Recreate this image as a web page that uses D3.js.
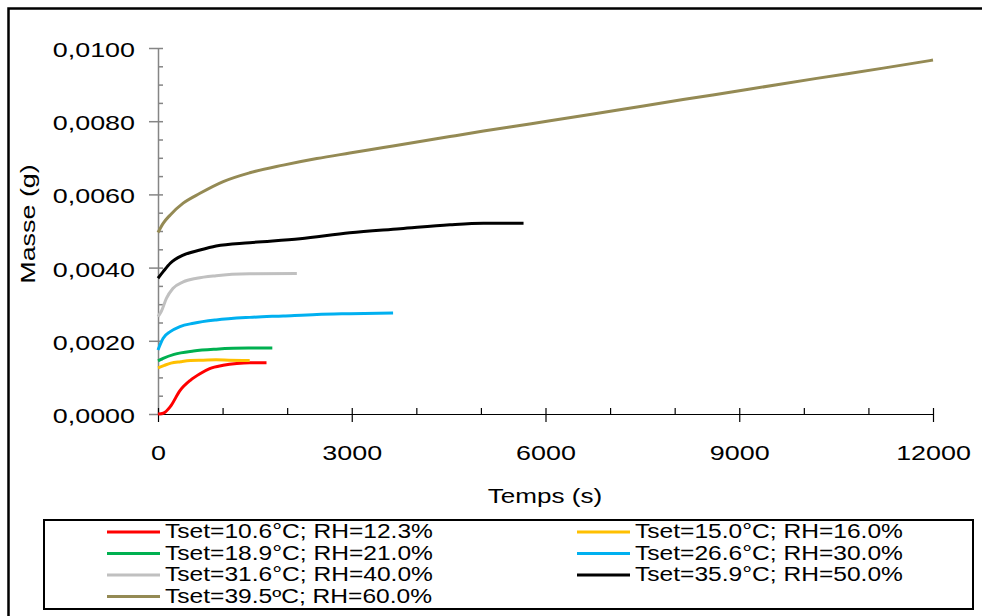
<!DOCTYPE html>
<html><head><meta charset="utf-8">
<script src="https://cdn.jsdelivr.net/npm/d3@7/dist/d3.min.js"></script>
<style>
body{margin:0;background:#fff}
text{font-family:"Liberation Sans",Arial,sans-serif;fill:#000}
</style>
</head><body>
<svg id="c" width="982" height="616"></svg>
<script>
// ---- data ----
const seriesNames = [
  "Tset=10.6°C; RH=12.3%",
  "Tset=15.0°C; RH=16.0%",
  "Tset=18.9°C; RH=21.0%",
  "Tset=26.6°C; RH=30.0%",
  "Tset=31.6°C; RH=40.0%",
  "Tset=35.9°C; RH=50.0%",
  "Tset=39.5ºC; RH=60.0%"
];
const seriesColors = ["#ff0000","#ffc000","#00b050","#00b0f0","#c0c0c0","#000000","#948a54"];

const t1 = [0, 80, 190, 340, 500, 650, 800, 1010, 1220, 1420, 1680];
const v1 = [0, 0.00002, 0.0002, 0.00064, 0.00092, 0.0011, 0.00124, 0.00133, 0.00138, 0.0014, 0.0014];
const t2 = [0, 100, 200, 350, 500, 700, 900, 1100, 1420];
const v2 = [0.00126, 0.00133, 0.00139, 0.00143, 0.00146, 0.00147, 0.00148, 0.00147, 0.00146];
const t3 = [0, 80, 250, 550, 900, 1400, 1770];
const v3 = [0.00145, 0.00152, 0.00163, 0.00172, 0.00177, 0.0018, 0.0018];
const t4 = [0, 80, 190, 340, 550, 900, 1420, 1940, 2460, 2970, 3640];
const v4 = [0.00175, 0.00207, 0.00225, 0.00239, 0.00248, 0.00257, 0.00264, 0.00268, 0.00272, 0.00274, 0.00276];
const t5 = [0, 50, 130, 230, 390, 600, 900, 1420, 2150];
const v5 = [0.00266, 0.0028, 0.00316, 0.00343, 0.00361, 0.00371, 0.00378, 0.00383, 0.00384];
const t6 = [0, 80, 190, 390, 650, 900, 1420, 2200, 2970, 3750, 4520, 5040, 5660];
const v6 = [0.00371, 0.00389, 0.00412, 0.00434, 0.00448, 0.00459, 0.00468, 0.00479, 0.00495, 0.00506, 0.00517, 0.00521, 0.00521];
const t7 = [0, 80, 190, 390, 650, 1010, 1420, 1940, 2460, 2970, 3490, 4010, 4520, 5040, 5550, 6070, 7100, 8130, 9170, 10200, 11230, 12000];
const v7 = [0.00496, 0.00521, 0.00544, 0.00576, 0.00603, 0.00635, 0.00659, 0.0068, 0.00698, 0.00713, 0.00728, 0.00743, 0.00758, 0.00773, 0.00787, 0.00801, 0.0083, 0.00859, 0.00888, 0.00917, 0.00945, 0.00967];

const seriesTimes = [t1, t2, t3, t4, t5, t6, t7];
const seriesValues = [v1, v2, v3, v4, v5, v6, v7];

const xTicks = [0, 3000, 6000, 9000, 12000];
const xMinorTicks = [0,1000,2000,3000,4000,5000,6000,7000,8000,9000,10000,11000,12000];
const yTicks = [0, 0.002, 0.004, 0.006, 0.008, 0.010];
const yMinorTicks = d3.range(0, 0.01001, 0.0005);
const xTitle = "Temps (s)";
const yTitle = "Masse (g)";

// ---- drawing ----
const svg = d3.select("#c");
svg.append("rect").attr("width",982).attr("height",616).attr("fill","#fff");

function stretch(sel, f){
  sel.each(function(){
    const L = this.getComputedTextLength();
    d3.select(this).attr("textLength", L*f).attr("lengthAdjust","spacingAndGlyphs");
  });
}

// outer frame (top and left visible)
svg.append("path").attr("d","M8.5,616V8.5H982").attr("fill","none").attr("stroke","#000").attr("stroke-width",2.5);

const x = d3.scaleLinear().domain([0,12000]).range([158,933]);
const y = d3.scaleLinear().domain([0,0.01]).range([414,48]);

// y axis
const yAx = svg.append("g").attr("transform","translate(158,0)")
  .call(d3.axisLeft(y).tickValues(yTicks).tickSize(9).tickSizeOuter(0).tickPadding(14)
    .tickFormat(d => d3.format(".4f")(d).replace(".", ",")));
yAx.select(".domain").attr("stroke","#858585").attr("stroke-width",1.5);
yAx.selectAll(".tick line").attr("stroke","#858585").attr("stroke-width",1.5);
yAx.selectAll("text").attr("font-size",21).attr("dy","0.4em").attr("font-family",null);
stretch(yAx.selectAll("text"), 1.28);

const yAxIn = svg.append("g").attr("transform","translate(158,0)")
  .call(d3.axisRight(y).tickValues(yMinorTicks).tickSize(5).tickSizeOuter(0).tickFormat(""));
yAxIn.select(".domain").remove();
yAxIn.selectAll(".tick line").attr("stroke","#858585").attr("stroke-width",1.5);

// x axis
const xAx = svg.append("g").attr("transform","translate(0,414)")
  .call(d3.axisBottom(x).tickValues(xTicks).tickSize(8).tickSizeOuter(0).tickPadding(23).tickFormat(d3.format("d")));
xAx.select(".domain").attr("stroke","#000").attr("stroke-width",1.2);
xAx.selectAll(".tick line").attr("stroke","#000").attr("stroke-width",1.2);
xAx.selectAll("text").attr("font-size",21).attr("font-family",null);
stretch(xAx.selectAll("text"), 1.28);

const xAxIn = svg.append("g").attr("transform","translate(0,414)")
  .call(d3.axisTop(x).tickValues(xMinorTicks).tickSize(6).tickSizeOuter(0).tickFormat(""));
xAxIn.select(".domain").remove();
xAxIn.selectAll(".tick line").attr("stroke","#000").attr("stroke-width",1.2);

// axis titles
const xt = svg.append("text").attr("x",545).attr("y",503).attr("text-anchor","middle").attr("font-size",21).text(xTitle);
stretch(xt, 1.24);
const yt = svg.append("text").attr("transform","translate(35,224) rotate(-90)").attr("text-anchor","middle").attr("font-size",21).text(yTitle);
stretch(yt, 1.28);

// series
const line = d3.line().x(d=>x(d[0])).y(d=>y(d[1])).curve(d3.curveMonotoneX);
seriesNames.forEach((n,i)=>{
  const pts = seriesTimes[i].map((t,j)=>[t, seriesValues[i][j]]);
  svg.append("path").datum(pts).attr("d",line).attr("fill","none")
    .attr("stroke",seriesColors[i]).attr("stroke-width",3).attr("stroke-linejoin","round");
});

// legend
svg.append("rect").attr("x",44).attr("y",520).attr("width",929).attr("height",89)
  .attr("fill","none").attr("stroke","#000").attr("stroke-width",2);
const rowsY = [531, 552.5, 574, 595.5];
seriesNames.forEach((n,i)=>{
  const col = i % 2, row = Math.floor(i/2);
  const lx = col === 0 ? 107 : 577;
  const cy = rowsY[row];
  svg.append("line").attr("x1",lx).attr("x2",lx+53).attr("y1",cy+1).attr("y2",cy+1)
    .attr("stroke",seriesColors[i]).attr("stroke-width",3);
  const tx = svg.append("text").attr("x",lx+58).attr("y",cy+7).attr("font-size",19.5).text(n);
  stretch(tx, 1.26);
});
</script>
</body></html>
